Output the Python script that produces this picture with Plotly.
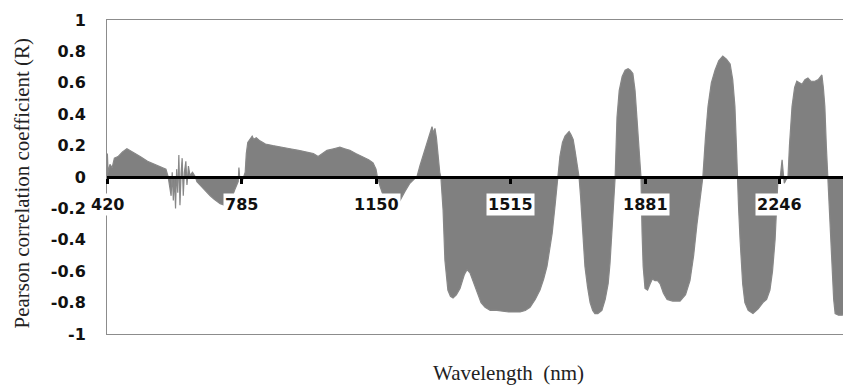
import plotly.graph_objects as go

# Wavelength (nm) and Pearson correlation coefficient
wavelength = [420, 421, 423, 428, 434, 440, 450, 462, 474, 490, 510, 530, 550, 570, 580,
              586, 590, 594, 597, 600, 603, 606, 609, 612, 615, 618, 621, 624, 627, 630,
              634, 637, 641, 645, 652, 660, 664, 680, 690, 700, 710, 720, 727, 740, 754,
              767, 776, 778, 780, 788, 795, 798, 802, 808, 814, 818, 825, 835, 850, 870,
              890, 917, 940, 963, 980, 993, 1005, 1017, 1035, 1052, 1065, 1079, 1095, 1115, 1130,
              1142, 1150, 1153, 1161, 1174, 1188, 1202, 1215, 1229, 1242, 1255, 1261, 1269, 1280, 1288,
              1297, 1302, 1306, 1310, 1314, 1318, 1323, 1326, 1329, 1332, 1337, 1345, 1352, 1359, 1368,
              1378, 1390, 1397, 1405, 1415, 1424, 1435, 1446, 1460, 1478, 1510, 1541, 1555, 1568, 1582,
              1595, 1605, 1614, 1621, 1628, 1636, 1641, 1644, 1649, 1656, 1663, 1670, 1674, 1679, 1685,
              1690, 1695, 1701, 1705, 1709, 1713, 1717, 1724, 1731, 1738, 1744, 1752, 1763, 1772, 1780,
              1785, 1790, 1795, 1799, 1804, 1810, 1818, 1826, 1834, 1840, 1847, 1853, 1858, 1861, 1865,
              1869, 1872, 1875, 1880, 1887, 1894, 1900, 1907, 1914, 1921, 1930, 1940, 1955, 1975, 1990,
              2002, 2012, 2021, 2030, 2037, 2044, 2051, 2060, 2070, 2080, 2091, 2101, 2111, 2118, 2124,
              2128, 2130, 2134, 2138, 2145, 2151, 2160, 2173, 2187, 2200, 2210, 2219, 2226, 2233, 2238,
              2241, 2247, 2250, 2252, 2255, 2258, 2262, 2266, 2268, 2272, 2279, 2286, 2292, 2299, 2306,
              2314, 2322, 2330, 2341, 2350, 2360, 2364, 2368, 2372, 2376, 2380, 2387, 2392, 2396, 2405,
              2415, 2425, 2436, 2440]

r_value = [0.0, 0.15, 0.03, 0.08, 0.06, 0.12, 0.13, 0.16, 0.18, 0.16, 0.13, 0.10, 0.08, 0.06, 0.05,
           0.0, -0.05, -0.12, 0.03, -0.15, 0.0, -0.20, 0.05, -0.10, 0.14, -0.18, 0.02, 0.12, -0.12, 0.03,
           0.10, -0.05, 0.07, 0.01, 0.03, 0.0, -0.03, -0.07, -0.10, -0.12, -0.14, -0.16, -0.17, -0.18, -0.16,
           -0.08, -0.03, 0.06, 0.0, -0.02, 0.03, 0.15, 0.22, 0.24, 0.26, 0.24, 0.25, 0.23, 0.21, 0.20,
           0.19, 0.18, 0.17, 0.16, 0.15, 0.13, 0.15, 0.17, 0.18, 0.19, 0.18, 0.17, 0.15, 0.13, 0.11,
           0.09, 0.05, 0.01, -0.06, -0.15, -0.21, -0.19, -0.15, -0.09, -0.04, -0.01, 0.0, 0.07, 0.15, 0.21,
           0.28, 0.32, 0.28, 0.31, 0.25, 0.13, 0.03, 0.0, -0.10, -0.21, -0.53, -0.72, -0.76, -0.77, -0.75,
           -0.71, -0.62, -0.59, -0.61, -0.67, -0.73, -0.80, -0.83, -0.85, -0.85, -0.86, -0.86, -0.85, -0.83, -0.78,
           -0.72, -0.65, -0.57, -0.47, -0.36, -0.18, -0.04, 0.0, 0.13, 0.22, 0.26, 0.28, 0.29, 0.27, 0.24,
           0.17, 0.09, 0.0, -0.12, -0.25, -0.42, -0.57, -0.70, -0.80, -0.85, -0.87, -0.87, -0.85, -0.78, -0.68,
           -0.55, -0.36, -0.15, 0.0, 0.38, 0.55, 0.64, 0.68, 0.69, 0.68, 0.66, 0.55, 0.38, 0.28, 0.12,
           0.0, -0.35, -0.57, -0.71, -0.72, -0.68, -0.65, -0.66, -0.66, -0.68, -0.74, -0.78, -0.79, -0.79, -0.75,
           -0.66, -0.50, -0.30, -0.12, 0.0, 0.25, 0.45, 0.60, 0.68, 0.74, 0.77, 0.75, 0.72, 0.62, 0.45,
           0.20, 0.0, -0.20, -0.40, -0.68, -0.80, -0.85, -0.87, -0.84, -0.80, -0.78, -0.72, -0.60, -0.40, -0.15,
           0.0, 0.0, 0.06, 0.11, 0.03, -0.04, -0.02, 0.0, 0.0, 0.20, 0.45, 0.57, 0.61, 0.60, 0.59,
           0.62, 0.63, 0.61, 0.61, 0.62, 0.65, 0.57, 0.45, 0.20, 0.0, -0.25, -0.61, -0.78, -0.87, -0.88,
           -0.88, -0.87, -0.85, -0.84]

x_ticks = [420, 785, 1150, 1515, 1881, 2246]
x_tick_labels = ["420", "785", "1150", "1515", "1881", "2246"]
y_ticks = [1, 0.8, 0.6, 0.4, 0.2, 0, -0.2, -0.4, -0.6, -0.8, -1]
y_tick_labels = ["1", "0.8", "0.6", "0.4", "0.2", "0", "-0.2", "-0.4", "-0.6", "-0.8", "-1"]

x_range = [420, 2439]

fig = go.Figure()
fig.add_trace(go.Scatter(
    x=wavelength, y=r_value, mode="lines", fill="tozeroy",
    fillcolor="#808080", line=dict(color="#878787", width=1.2),
    hoverinfo="skip", showlegend=False))
# invisible trace so the zero-crossing axis (xaxis2) gets drawn
fig.add_trace(go.Scatter(
    x=x_ticks, y=[0] * len(x_ticks), xaxis="x2", yaxis="y", mode="markers",
    marker=dict(opacity=0), hoverinfo="skip", showlegend=False))

tick_font = dict(family="DejaVu Sans", size=16, color="#111111", weight="bold")

for v, t in zip(x_ticks, x_tick_labels):
    fig.add_annotation(x=v, y=-0.172, xref="x", yref="y", text=t, showarrow=False,
                       xanchor="center", yanchor="middle", bgcolor="white",
                       borderpad=1, font=tick_font)

fig.add_annotation(x=-0.114, y=0.48, xref="paper", yref="paper",
                   text="Pearson correlation coefficient (R)", textangle=-90,
                   showarrow=False, xanchor="center", yanchor="middle",
                   font=dict(family="Liberation Serif", size=21, color="#222222"))
fig.add_annotation(x=0.539, y=-0.124, xref="paper", yref="paper",
                   text="Wavelength\u00a0 (nm)", showarrow=False,
                   xanchor="center", yanchor="middle",
                   font=dict(family="Liberation Serif", size=21, color="#222222"))

# the page body adds an 8px offset, so the figure is sized/margined to compensate
fig.update_layout(
    width=843, height=379,
    margin=dict(l=99, r=0, t=12, b=53, pad=0),
    paper_bgcolor="white", plot_bgcolor="white",
    xaxis=dict(range=x_range, showgrid=False, zeroline=False, showline=True,
               linecolor="#8c8c8c", linewidth=1, mirror=True, automargin=False,
               showticklabels=False, ticks=""),
    xaxis2=dict(range=x_range, overlaying="x", anchor="free", position=0.5,
                side="bottom", showgrid=False, zeroline=False, showline=True,
                linecolor="black", linewidth=3, ticks="outside", ticklen=5,
                tickwidth=3, tickcolor="black", tickvals=x_ticks,
                showticklabels=False, automargin=False),
    yaxis=dict(range=[-1, 1], showgrid=False, zeroline=False, showline=True,
               linecolor="#8c8c8c", linewidth=1, tickvals=y_ticks,
               ticktext=y_tick_labels, ticks="outside", ticklen=17,
               tickcolor="rgba(0,0,0,0)", tickfont=tick_font, automargin=False),
)

fig.write_html("out.html")
